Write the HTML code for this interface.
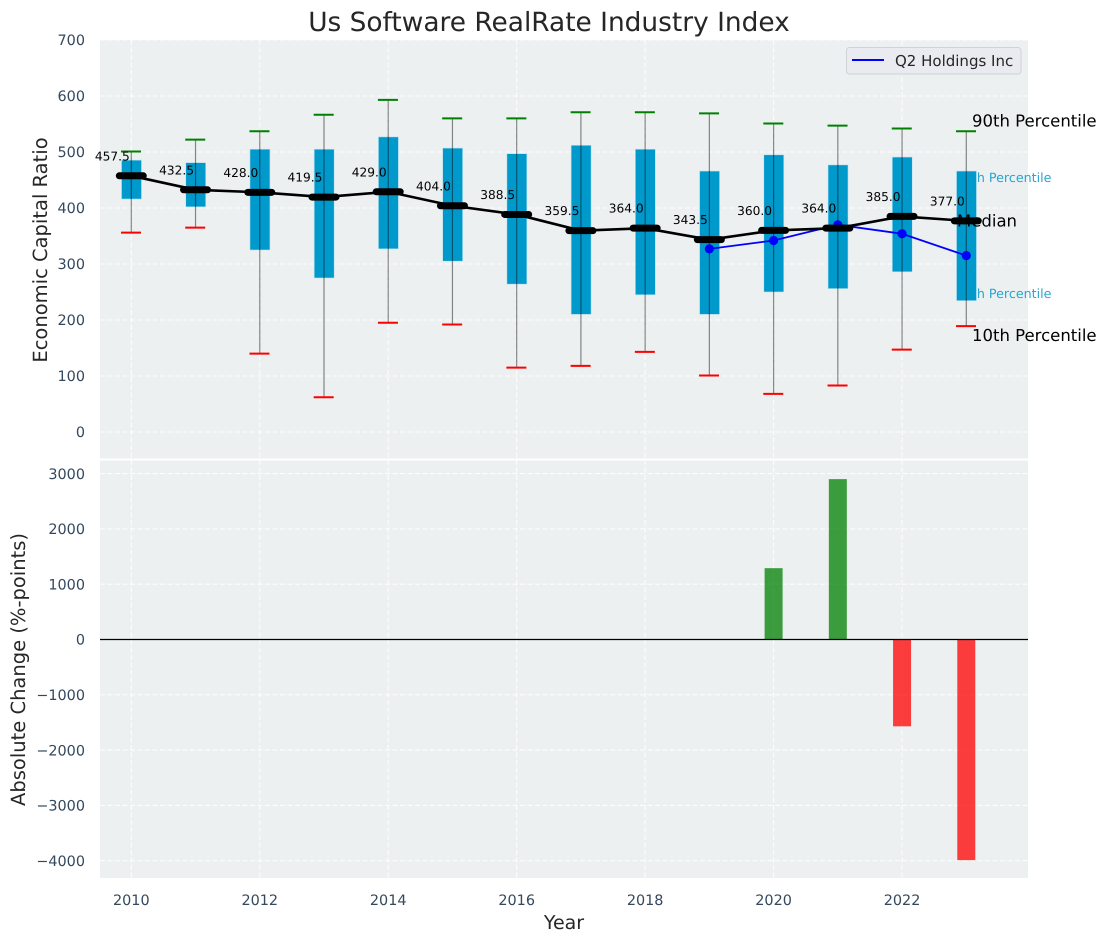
<!DOCTYPE html>
<html>
<head>
<meta charset="utf-8">
<title>Us Software RealRate Industry Index</title>
<style>
html,body{margin:0;padding:0;background:#fff;}
svg{display:block;font-family:"DejaVu Sans","Liberation Sans",sans-serif;text-rendering:geometricPrecision;}
</style>
</head>
<body>
<svg id="chart" xmlns="http://www.w3.org/2000/svg" width="1107" height="942" viewBox="0 0 1107 942">
  <rect x="100" y="40" width="928" height="419" fill="#ecf0f1"/>
  <rect x="100" y="460" width="928" height="418" fill="#ecf0f1"/>
  <g id="grid"></g>
  <g id="ticks"></g>
  <text x="549" y="31" font-size="26.4" fill="#262626" text-anchor="middle">Us Software RealRate Industry Index</text>
  <text x="0" y="0" transform="translate(47,250) rotate(-90)" font-size="19.5" fill="#262626" text-anchor="middle">Economic Capital Ratio</text>
  <text x="0" y="0" transform="translate(25,669.5) rotate(-90)" font-size="19.5" fill="#262626" text-anchor="middle">Absolute Change (%-points)</text>
  <text x="564" y="929" font-size="19" fill="#262626" text-anchor="middle">Year</text>
  <text x="1051.5" y="182" font-size="12.7" fill="#0099cc" fill-opacity="0.85" text-anchor="end">75th Percentile</text>
  <text x="1051.5" y="298" font-size="12.7" fill="#0099cc" fill-opacity="0.85" text-anchor="end">25th Percentile</text>
  <g id="boxes"></g>
  <g id="q2"></g>
  <g id="medians"></g>
  <g id="bars"></g>
  <line x1="100" x2="1028" y1="639.5" y2="639.5" stroke="#000" stroke-width="1.3"/>
  <text x="972" y="126.5" font-size="16.5" fill="#000">90th Percentile</text>
  <text x="957" y="226.5" font-size="16.5" fill="#000">Median</text>
  <text x="972" y="341" font-size="16.5" fill="#000">10th Percentile</text>
  <g>
    <rect x="846.5" y="47.5" width="174.5" height="26.5" rx="3" fill="#e9ebf0" stroke="#cfd2d6"/>
    <line x1="852" x2="884" y1="60" y2="60" stroke="#0000ff" stroke-width="2"/>
    <text x="895" y="66" font-size="15" fill="#262626">Q2 Holdings Inc</text>
  </g>
</svg>
<script>
const years = [2010,2011,2012,2013,2014,2015,2016,2017,2018,2019,2020,2021,2022,2023];
const p90 = [501,522,537,566.5,593,560,560,571,571,569,551,547,542,537];
const p75 = [485.5,481,505,505,527,507,497,512,505,466,495,477,491,466];
const medianValues = [457.5,432.5,428,419.5,429,404,388.5,359.5,364,343.5,360,364,385,377];
const p25 = [416,402,325,275,327,305,264,210,245,210,250,256,286,234.5];
const p10 = [356,365,140,62,195,192,115,118,143,101,68,83,147,189];
const q2Years = [2019,2020,2021,2022,2023];
const q2Values = [327,342,370,354,315];
const changeYears = [2020,2021,2022,2023];
const changeValues = [1290,2900,-1570,-3990];
const xTicks = [2010,2012,2014,2016,2018,2020,2022];
const topTicks = [0,100,200,300,400,500,600,700];
const bottomTicks = [-4000,-3000,-2000,-1000,0,1000,2000,3000];

function xScale(v){ return 131.3 + (v - 2010) * 64.23; }
function topY(v){ return 432 - v * 0.56; }
function bottomY(v){ return 639.5 - v * 0.0553; }

const NS = 'http://www.w3.org/2000/svg';
function make(tag, parent, attrs){
  const el = document.createElementNS(NS, tag);
  for (const k in attrs) el.setAttribute(k, attrs[k]);
  parent.appendChild(el);
  return el;
}
const grid = document.getElementById('grid');
const ticks = document.getElementById('ticks');
const boxes = document.getElementById('boxes');
const q2 = document.getElementById('q2');
const medians = document.getElementById('medians');
const bars = document.getElementById('bars');
const gridStyle = {stroke:'#ffffff','stroke-width':1.1,'stroke-dasharray':'5 2.5','stroke-opacity':0.85};

xTicks.forEach(function(t){
  const x = xScale(t);
  const a = make('line', grid, Object.assign({x1:x,x2:x,y1:40,y2:459}, gridStyle));
  
  
  const b = make('line', grid, Object.assign({x1:x,x2:x,y1:460,y2:878}, gridStyle));
  
  
  const l = make('text', ticks, {x:x,y:905,'font-size':14.4,fill:'#34495e','text-anchor':'middle'});
  l.textContent = t;
  
  
});
topTicks.forEach(function(t){
  const y = topY(t);
  const g = make('line', grid, Object.assign({x1:100,x2:1028,y1:y,y2:y}, gridStyle));
  
  
  const l = make('text', ticks, {x:85,y:y+5.2,'font-size':14.4,fill:'#34495e','text-anchor':'end'});
  l.textContent = t;
  
  
});
bottomTicks.forEach(function(t){
  const y = bottomY(t);
  const g = make('line', grid, Object.assign({x1:100,x2:1028,y1:y,y2:y}, gridStyle));
  
  
  const l = make('text', ticks, {x:85,y:y+5.2,'font-size':14.4,fill:'#34495e','text-anchor':'end'});
  l.textContent = String(t).replace('-', '\u2212');
  
  
});
const divider = make('rect', grid, {x:100,y:458.5,width:928,height:2,fill:'#ffffff'});



years.forEach(function(yr, i){
  const x = xScale(yr);
  const box = make('rect', boxes, {x:x-9.8,y:topY(p75[i]),width:20,height:topY(p25[i])-topY(p75[i]),fill:'#0099cc',stroke:'#bfe3ef','stroke-width':0.6});
  
  
  const w = make('line', boxes, {x1:x,x2:x,y1:topY(p90[i]),y2:topY(p10[i]),stroke:'#000','stroke-opacity':0.45,'stroke-width':1.2});
  
  
  const hi = make('line', boxes, {x1:x-10.3,x2:x+9.7,y1:topY(p90[i]),y2:topY(p90[i]),stroke:'#008000','stroke-width':2});
  
  
  const lo = make('line', boxes, {x1:x-10.3,x2:x+9.7,y1:topY(p10[i]),y2:topY(p10[i]),stroke:'#ff0000','stroke-width':2});
  
  
});

const q2Line = make('polyline', q2, {
  points:q2Years.map(function(y,i){ return xScale(y)+','+topY(q2Values[i]); }).join(' '),
  fill:'none',stroke:'#0000ff','stroke-width':1.8
});


q2Years.forEach(function(y,i){
  const c = make('circle', q2, {cx:xScale(y),cy:topY(q2Values[i]),r:4.6,fill:'#0000ff'});
  
  
});

const medLine = make('polyline', medians, {
  points:years.map(function(y,i){ return xScale(y)+','+topY(medianValues[i]); }).join(' '),
  fill:'none',stroke:'#000','stroke-width':2.6
});


years.forEach(function(yr,i){
  const x = xScale(yr), y = topY(medianValues[i]);
  const m = make('line', medians, {x1:x-12,x2:x+12,y1:y,y2:y,stroke:'#000','stroke-width':7,'stroke-linecap':'round'});
  
  
  const t = make('text', medians, {x:x-19,y:y-15.5,'font-size':12.2,fill:'#000','text-anchor':'middle'});
  t.textContent = medianValues[i].toFixed(1);
  
  
});

changeYears.forEach(function(yr,i){
  const v = changeValues[i];
  const y0 = bottomY(Math.max(v,0)), y1 = bottomY(Math.min(v,0));
  const b = make('rect', bars, {x:xScale(yr)-9,y:y0,width:18,height:y1-y0,fill:v>=0?'#008000':'#ff0000','fill-opacity':0.75});
  
  
});
</script>
</body>
</html>
